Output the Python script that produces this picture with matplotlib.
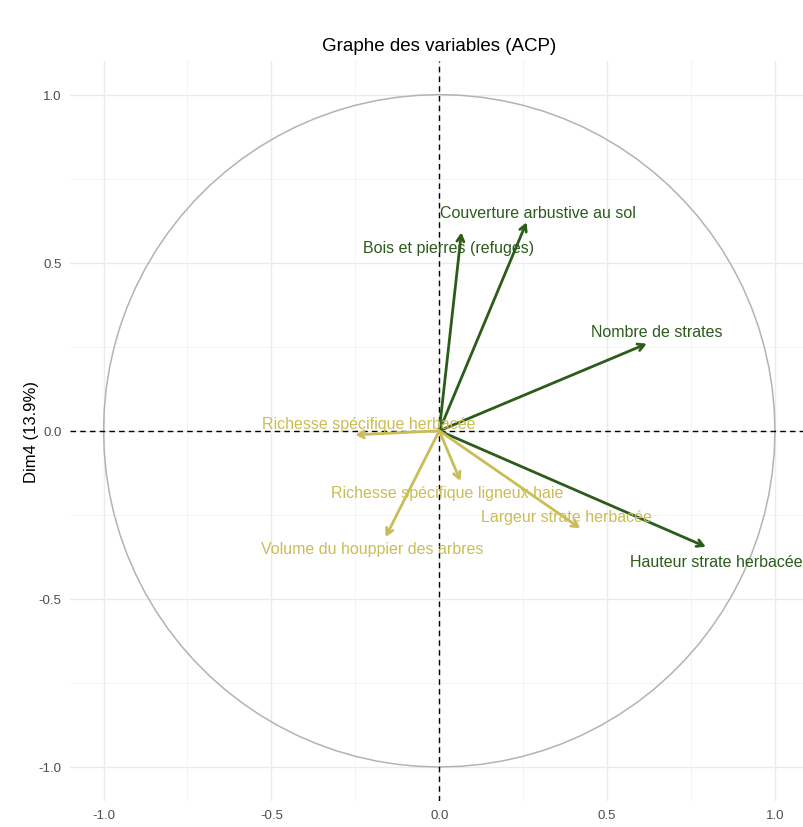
import matplotlib.pyplot as plt
import numpy as np

plt.rcParams['font.family'] = ['Liberation Sans', 'DejaVu Sans']

# coordinates of the variables on Dim3 / Dim4
variables = ['Couverture arbustive au sol', 'Bois et pierres (refuges)',
             'Nombre de strates', 'Hauteur strate herbacée',
             'Richesse spécifique herbacée', 'Richesse spécifique ligneux haie',
             'Largeur strate herbacée', 'Volume du houppier des arbres']
dim3 = [0.26, 0.066, 0.618, 0.794, -0.25, 0.063, 0.42, -0.16]
dim4 = [0.62, 0.59, 0.259, -0.345, -0.012, -0.149, -0.29, -0.316]
groupe = [1, 1, 1, 1, 0, 0, 0, 0]
# label offsets (in data units) relative to arrow tips
lab_dx = [0.033, -0.039, 0.03, 0.03, 0.04, -0.04, -0.04, -0.04]
lab_dy = [0.029, -0.045, 0.036, -0.045, 0.035, -0.035, 0.035, -0.035]

couleurs = ['#CABD56', '#2B5C1A']

fig = plt.figure(figsize=(8.04, 8.28), dpi=100)
ax = fig.add_axes([70 / 804, 1 - 801.6 / 828, 738.5 / 804, 739.6 / 828])
ax.set_xlim(-1.1, 1.1)
ax.set_ylim(-1.1, 1.1)

# grid, theme_minimal style
for v in np.arange(-1.0, 1.01, 0.5):
    ax.axvline(v, color='#ebebeb', lw=1.0, zorder=0)
    ax.axhline(v, color='#ebebeb', lw=1.0, zorder=0)
for v in [-0.75, -0.25, 0.25, 0.75]:
    ax.axvline(v, color='#f3f3f3', lw=0.6, zorder=0)
    ax.axhline(v, color='#f3f3f3', lw=0.6, zorder=0)
for s in ax.spines.values():
    s.set_visible(False)

# correlation circle
t = np.linspace(0, 2 * np.pi, 101)
ax.plot(np.cos(t), np.sin(t), color='#b3b3b3', lw=1.1, zorder=1)

ax.axhline(0, color='black', ls=(0, (4, 3)), lw=1.0, zorder=2)
ax.axvline(0, color='black', ls=(0, (4, 3)), lw=1.0, zorder=2)

for i, nom in enumerate(variables):
    c = couleurs[groupe[i]]
    ax.annotate('', xy=(dim3[i], dim4[i]), xytext=(0, 0),
                arrowprops=dict(arrowstyle='->,head_length=0.45,head_width=0.25',
                                color=c, lw=2.0, shrinkA=0, shrinkB=0),
                zorder=3)
    ax.text(dim3[i] + lab_dx[i], dim4[i] + lab_dy[i], nom, color=c,
            fontsize=11.5, ha='center', va='center', zorder=4)

ax.set_xticks([-1.0, -0.5, 0.0, 0.5, 1.0])
ax.set_yticks([-1.0, -0.5, 0.0, 0.5, 1.0])
ax.set_xticklabels(['-1.0', '-0.5', '0.0', '0.5', '1.0'])
ax.set_yticklabels(['-1.0', '-0.5', '0.0', '0.5', '1.0'])
ax.tick_params(length=0, labelsize=9.5, labelcolor='#4d4d4d', pad=6)
ax.set_xlabel('Dim3 (13.5%)', fontsize=12, labelpad=4)
ax.set_ylabel('Dim4 (13.9%)', fontsize=12, labelpad=0)
ax.set_title('Graphe des variables (ACP)', fontsize=13.5, pad=8)

fig.savefig('out.png', dpi=100)
